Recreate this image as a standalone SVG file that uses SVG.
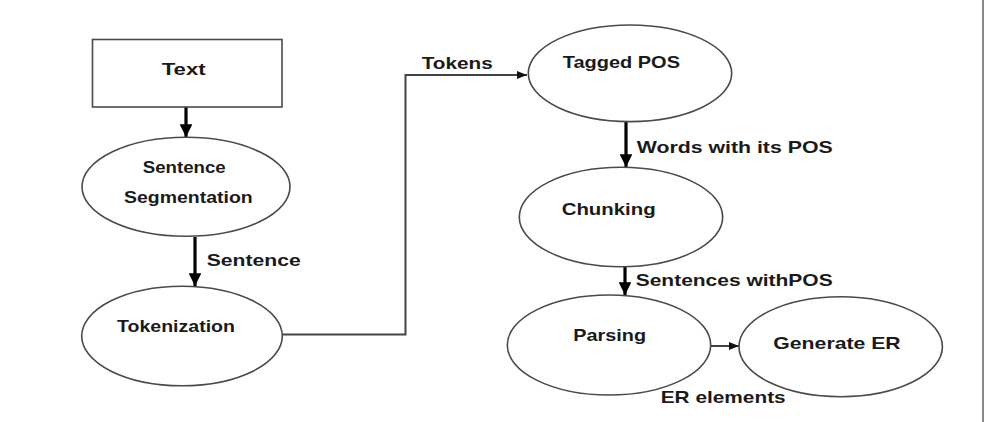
<svg xmlns="http://www.w3.org/2000/svg" width="984" height="422" viewBox="0 0 984 422">
<defs>
<marker id="big" viewBox="0 0 10 10" refX="10" refY="5" markerWidth="4" markerHeight="4" markerUnits="strokeWidth" orient="auto"><path d="M0,0 L10,5 L0,10 z" fill="#000"/></marker>
<marker id="small" viewBox="0 0 10 10" refX="10" refY="5" markerWidth="5" markerHeight="5" markerUnits="strokeWidth" orient="auto"><path d="M0,1 L10,5 L0,9 z" fill="#111"/></marker>
</defs>
<style>
.n{fill:#fff;stroke:#4a4a4a;stroke-width:1.6}
.t{font-family:"Liberation Sans",Arial,sans-serif;font-weight:bold;font-size:17px;fill:#1a1a1a}
.thick{stroke:#000;stroke-width:3.2;fill:none;marker-end:url(#big)}
.thin{stroke:#444;stroke-width:2;fill:none;marker-end:url(#small)}
</style>
<rect width="984" height="422" fill="#fff"/>
<line x1="983" y1="0" x2="983" y2="422" stroke="#888" stroke-width="2"/>
<g id="connectors">
<line class="thick" x1="186" y1="107" x2="186" y2="137"/>
<line class="thick" x1="195" y1="237" x2="195" y2="286"/>
<polyline class="thin" points="282,334.5 405.5,334.5 405.5,75 527,75"/>
<line class="thick" x1="626" y1="122" x2="626" y2="167"/>
<line class="thick" x1="625" y1="267" x2="625" y2="295"/>
<line class="thin" x1="711" y1="346" x2="739" y2="346"/>
<text class="t" x="206.7" y="266" textLength="94" lengthAdjust="spacingAndGlyphs">Sentence</text>
<text class="t" x="421.7" y="69" textLength="71" lengthAdjust="spacingAndGlyphs">Tokens</text>
<text class="t" x="636.7" y="153" textLength="196" lengthAdjust="spacingAndGlyphs">Words with its POS</text>
<text class="t" x="635.7" y="286" textLength="197" lengthAdjust="spacingAndGlyphs">Sentences withPOS</text>
<text class="t" x="660.7" y="403" textLength="125" lengthAdjust="spacingAndGlyphs">ER elements</text>
</g>
<g id="text">
<rect class="n" x="92.5" y="39.5" width="189.5" height="67.5"/>
<text class="t" x="161.7" y="75" textLength="44" lengthAdjust="spacingAndGlyphs">Text</text>
</g>
<g id="sentence-segmentation">
<ellipse class="n" cx="186" cy="186.8" rx="104" ry="49.5"/>
<text class="t" x="142.7" y="172.5" textLength="83" lengthAdjust="spacingAndGlyphs">Sentence</text>
<text class="t" x="124" y="202.5" textLength="128.7" lengthAdjust="spacingAndGlyphs">Segmentation</text>
</g>
<g id="tokenization">
<ellipse class="n" cx="182" cy="336" rx="100.3" ry="49.8"/>
<text class="t" x="117" y="332" textLength="118" lengthAdjust="spacingAndGlyphs">Tokenization</text>
</g>
<g id="tagged-pos">
<ellipse class="n" cx="630" cy="73.3" rx="101.7" ry="48.3"/>
<text class="t" x="562.7" y="67.5" textLength="117.3" lengthAdjust="spacingAndGlyphs">Tagged POS</text>
</g>
<g id="chunking">
<ellipse class="n" cx="621" cy="217" rx="101.7" ry="49.7"/>
<text class="t" x="561.7" y="215" textLength="94" lengthAdjust="spacingAndGlyphs">Chunking</text>
</g>
<g id="parsing">
<ellipse class="n" cx="609" cy="345" rx="101.7" ry="50"/>
<text class="t" x="573.3" y="340.5" textLength="72.7" lengthAdjust="spacingAndGlyphs">Parsing</text>
</g>
<g id="generate-er">
<ellipse class="n" cx="840.7" cy="346.7" rx="101.7" ry="50"/>
<text class="t" x="773.3" y="348.5" textLength="127.4" lengthAdjust="spacingAndGlyphs">Generate ER</text>
</g>
</svg>
